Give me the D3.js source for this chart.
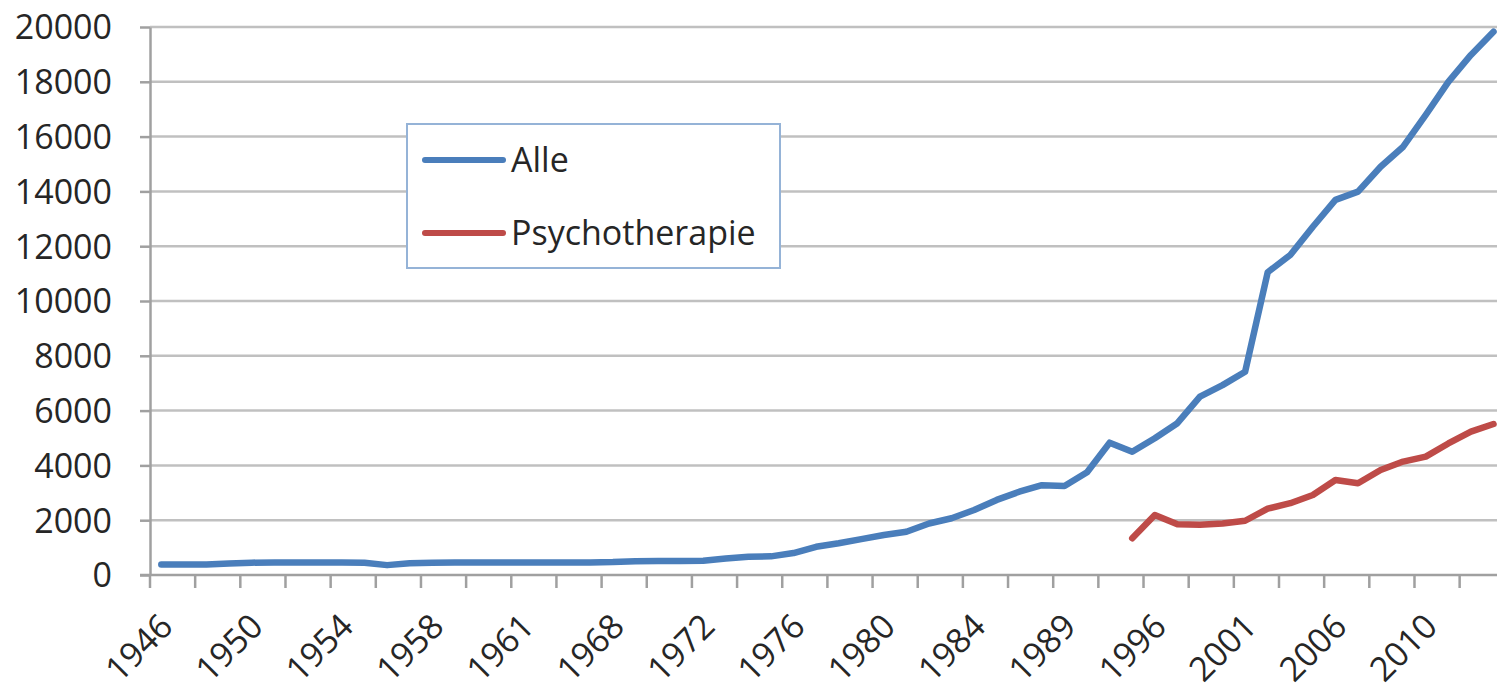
<!DOCTYPE html>
<html>
<head>
<meta charset="utf-8">
<script src="https://cdn.jsdelivr.net/npm/d3@7"></script>
<style>
body { margin: 0; background: #fff; }
text { font-family: "Open Sans", sans-serif; fill: #262626; }
</style>
</head>
<body>
<div id="chart"></div>
<script>
// categories (only every 4th one is labelled on the axis)
const years = ["1946","1947","1948","1949","1950","1951","1952","1953","1954","1955",
    "1956","1957","1958","1959","1959","1960","1961","1963","1965","1967",
    "1968","1969","1970","1971","1972","1973","1974","1975","1976","1977",
    "1978","1979","1980","1981","1982","1983","1984","1985","1986","1988",
    "1989","1991","1993","1995","1996","1997","1998","2000","2001","2002",
    "2003","2005","2006","2007","2008","2009","2010","2011","2012","2013"];

const alleValues = [380,380,380,420,450,460,460,460,460,450,
    360,430,450,460,460,460,460,460,460,460,
    470,500,510,510,520,600,670,680,800,1030,
    1160,1310,1460,1580,1880,2070,2370,2740,3040,3280,
    3250,3750,4830,4500,4990,5540,6510,6930,7420,11050,
    11680,12710,13690,13990,14900,15630,16790,18000,18980,19830];

// Psychotherapie starts at 1995 (last 17 categories)
const psychoValues = [1340,2190,1850,1830,1880,1980,2420,2620,2920,3470,
    3350,3830,4140,4320,4800,5230,5510];

const yTicks = [0,2000,4000,6000,8000,10000,12000,14000,16000,18000,20000];
const seriesNames = ["Alle","Psychotherapie"];
const seriesColors = ["#4a7ebb","#be4b48"];

var width = 1497, height = 688;
var plotLeft = 150, plotRight = 1504.8, plotTop = 27, plotBottom = 575;

var svg = d3.select("#chart")
  .append("svg")
    .attr("width", width)
    .attr("height", height);

var x = d3.scaleBand()
  .domain(years.map((d, i) => i))
  .range([plotLeft, plotRight])
  .padding(0);

var y = d3.scaleLinear()
  .domain([0, 20000])
  .range([plotBottom, plotTop]);

// gridlines
svg.append("g")
  .selectAll("line")
  .data(yTicks.filter(d => d > 0))
  .join("line")
    .attr("x1", plotLeft)
    .attr("x2", width)
    .attr("y1", d => y(d))
    .attr("y2", d => y(d))
    .attr("stroke", "#c0c0c0")
    .attr("stroke-width", 2.5);

// Y axis
var yAxis = svg.append("g")
  .attr("transform", "translate(" + plotLeft + ",0)")
  .call(d3.axisLeft(y).tickValues(yTicks).tickFormat(d3.format("d"))
    .tickSize(10).tickPadding(28).tickSizeOuter(0));
yAxis.selectAll("text").style("font-size", "34px").attr("dy", "0.35em");
yAxis.selectAll("line").attr("stroke", "#a0a0a0").attr("stroke-width", 2.5);
yAxis.select(".domain").attr("stroke", "#a0a0a0").attr("stroke-width", 2.5);

// X axis: tick marks every 2 categories, on the category boundaries
var xTicks = svg.append("g")
  .attr("transform", "translate(0," + plotBottom + ")")
  .call(d3.axisBottom(x)
    .tickValues(years.map((d, i) => i).filter(i => i % 2 == 0))
    .tickFormat("")
    .tickSize(13)
    .tickSizeOuter(0));
xTicks.selectAll(".tick line")
  .attr("transform", "translate(" + (-x.bandwidth() / 2) + ",0)")
  .attr("stroke", "#a0a0a0").attr("stroke-width", 2.5);
xTicks.select(".domain").attr("stroke", "#a0a0a0").attr("stroke-width", 2.5)
  .attr("d", "M" + (plotLeft - 10) + ",0H" + width);

// X labels every 4 categories
var xLabels = svg.append("g")
  .attr("transform", "translate(0," + plotBottom + ")")
  .call(d3.axisBottom(x)
    .tickValues(years.map((d, i) => i).filter(i => i % 4 == 0))
    .tickFormat(i => years[i])
    .tickSize(0));
xLabels.select(".domain").remove();
xLabels.selectAll("text")
  .style("font-size", "34px")
  .attr("y", 0)
  .attr("dy", "0.35em")
  .attr("transform", "translate(5,45)rotate(-45)")
  .style("text-anchor", "end");

// lines
var line = d3.line()
  .x(d => x(d.i) + x.bandwidth() / 2)
  .y(d => y(d.v));

var offset = years.length - psychoValues.length;
var series = [
  alleValues.map((v, i) => ({i: i, v: v})),
  psychoValues.map((v, i) => ({i: i + offset, v: v}))
];

svg.append("g")
  .selectAll("path")
  .data(series)
  .join("path")
    .attr("d", line)
    .attr("fill", "none")
    .attr("stroke", (d, i) => seriesColors[i])
    .attr("stroke-width", 6.5)
    .attr("stroke-linejoin", "round")
    .attr("stroke-linecap", "round");

// legend
var legend = svg.append("g");
legend.append("rect")
  .attr("x", 407).attr("y", 124)
  .attr("width", 373).attr("height", 144)
  .attr("fill", "#fff")
  .attr("stroke", "#95b3d7")
  .attr("stroke-width", 2);

var items = legend.selectAll("g.item")
  .data(seriesNames)
  .join("g")
    .attr("class", "item")
    .attr("transform", (d, i) => "translate(0," + (160 + i * 73) + ")");
items.append("line")
  .attr("x1", 425).attr("x2", 503)
  .attr("stroke", (d, i) => seriesColors[i])
  .attr("stroke-width", 6)
  .attr("stroke-linecap", "round");
items.append("text")
  .attr("x", 511)
  .attr("dy", "0.35em")
  .style("font-size", "34px")
  .text(d => d);
</script>
</body>
</html>
